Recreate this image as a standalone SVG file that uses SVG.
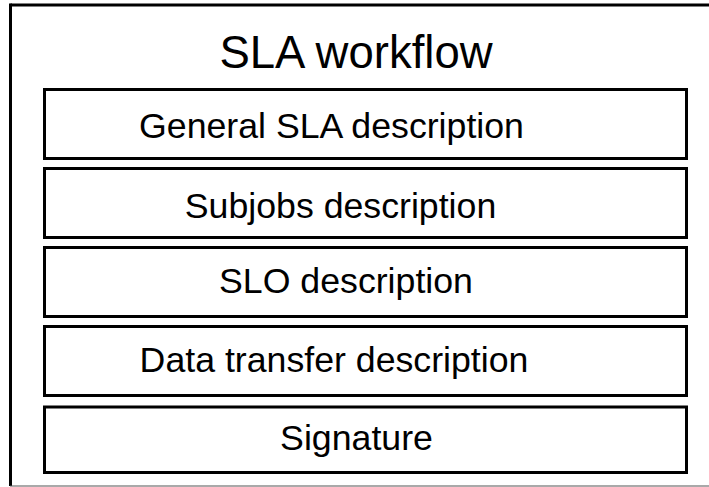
<svg xmlns="http://www.w3.org/2000/svg" width="709" height="487" viewBox="0 0 709 487">
<style>
.box{fill:#fff;stroke:#000;stroke-width:3}
.t{font-family:"Liberation Sans",Arial,sans-serif;font-size:35.7px;fill:#000;text-anchor:middle}
.title{font-family:"Liberation Sans",Arial,sans-serif;font-size:45.5px;fill:#000;text-anchor:middle}
</style>
<rect width="709" height="487" fill="#fff"/>
<g id="frame">
<line x1="10.5" y1="5" x2="709" y2="5" stroke="#000" stroke-width="3"/>
<line x1="10.5" y1="3.5" x2="10.5" y2="486" stroke="#000" stroke-width="3"/>
<line x1="10" y1="486" x2="709" y2="486" stroke="#555" stroke-width="1.2"/>
<text class="title" x="356" y="68">SLA workflow</text>
</g>
<g id="connectors"></g>
<g id="general"><rect class="box" x="44.5" y="89.5" width="642" height="69"/><text class="t" x="331.5" y="138">General SLA description</text></g>
<g id="subjobs"><rect class="box" x="44.5" y="168.5" width="642" height="69"/><text class="t" x="340.5" y="218">Subjobs description</text></g>
<g id="slo"><rect class="box" x="44.5" y="247.5" width="642" height="69"/><text class="t" x="346" y="293">SLO description</text></g>
<g id="datatransfer"><rect class="box" x="44.5" y="326.5" width="642" height="69"/><text class="t" x="334" y="372">Data transfer description</text></g>
<g id="signature"><rect class="box" x="44.5" y="407" width="642" height="65.5"/><text class="t" x="356.5" y="450">Signature</text></g>
</svg>
